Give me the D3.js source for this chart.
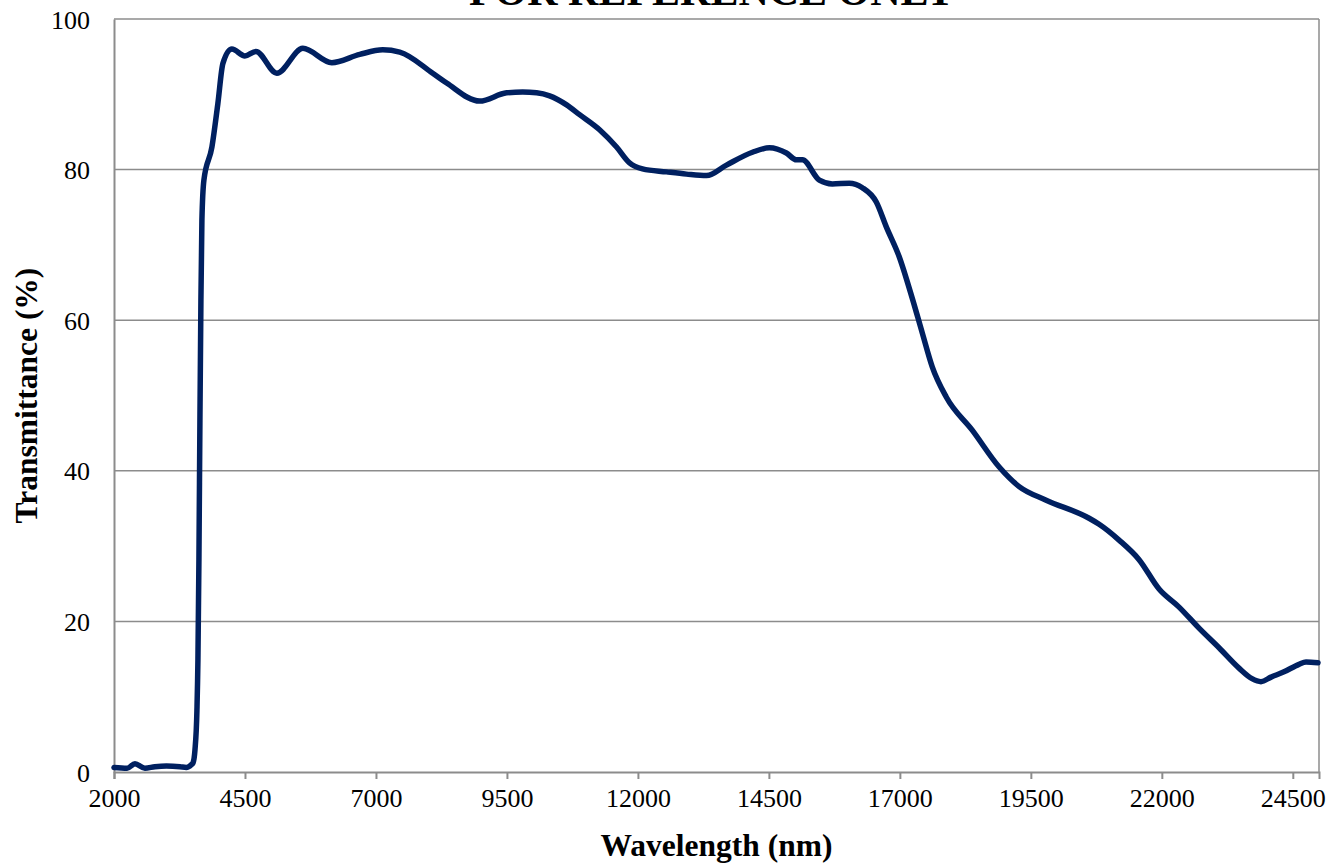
<!DOCTYPE html>
<html>
<head>
<meta charset="utf-8">
<script src="https://cdn.jsdelivr.net/npm/d3@7"></script>
<style>
  html, body { margin: 0; padding: 0; background: #fff; }
  svg { display: block; font-family: 'Liberation Serif', 'Times New Roman', serif; }
  .tick text { font-size: 26px; fill: #000; }
  .axis-title { font-size: 31.5px; font-weight: bold; fill: #000; }
</style>
</head>
<body>
<div id="chart"></div>
<script>
// wavelength (nm)
const wavelength = [
  2000, 2250, 2400, 2590, 2780, 3000, 3260, 3380, 3480,
  3507, 3545, 3583, 3602, 3621, 3640, 3659, 3678, 3716,
  3869, 3983, 4079, 4250, 4498, 4708, 5108, 5604, 6157, 6691, 7130, 7454,
  8083, 8350, 8980, 9495, 9800, 10067, 10315, 10639, 10887, 11268, 11592,
  11840, 12088, 12546, 12927, 13309, 13690, 14186, 14510, 14834, 15025,
  15139, 15463, 15711, 16035, 16283, 16550, 16741, 16989, 17237, 17428,
  17618, 17885, 18381, 18896, 19277, 19792, 20612, 20803, 21184, 21566,
  21947, 22329, 22710, 23092, 23473, 23721, 23893, 24084, 24332, 24618,
  24752, 24981
];
// transmittance (%)
const transmittance = [
  0.6, 0.5, 1.1, 0.5, 0.7, 0.8, 0.7, 0.6, 1.0,
  1.2, 2.9, 8.2, 14.9, 28.2, 46.7, 62.7, 73.3, 78.6,
  83.0, 88.8, 94.1, 96.0, 95.1, 95.7, 92.8, 96.1, 94.2, 95.3, 95.9, 95.6,
  92.8, 91.5, 89.1, 90.2, 90.3, 90.2, 89.8, 88.6, 87.3, 85.3, 83.0,
  80.9, 80.1, 79.7, 79.4, 79.2, 80.6, 82.3, 82.9, 82.2, 81.3,
  81.3, 78.6, 78.1, 78.2, 77.6, 75.7, 72.4, 68.4, 62.9, 58.3,
  53.8, 49.8, 45.4, 40.5, 37.9, 36.1, 33.7, 32.9, 30.8, 28.2,
  24.3, 21.9, 19.1, 16.5, 13.8, 12.4, 12.0, 12.6, 13.3, 14.3,
  14.6, 14.5
];
const xTicks = [2000, 4500, 7000, 9500, 12000, 14500, 17000, 19500, 22000, 24500];
const yTicks = [0, 20, 40, 60, 80, 100];

const width = 1332, height = 866;
const margin = { top: 19, right: 13, bottom: 94, left: 114 };
const innerW = width - margin.left - margin.right,
  innerH = height - margin.top - margin.bottom;

const svg = d3.select('#chart').append('svg')
  .attr('width', width)
  .attr('height', height);

const xScale = d3.scaleLinear().domain([2000, 25000]).range([0, innerW]);
const yScale = d3.scaleLinear().domain([0, 100]).range([innerH, 0]);

const g = svg.append('g')
  .attr('transform', `translate(${margin.left},${margin.top})`);

// horizontal gridlines (the 100 one doubles as the top border)
g.append('g').attr('class', 'grid')
  .selectAll('line').data(yTicks.slice(1)).enter()
  .append('line')
    .attr('x1', 0).attr('x2', innerW)
    .attr('y1', d => yScale(d)).attr('y2', d => yScale(d))
    .attr('stroke', '#8c8c8c')
    .attr('stroke-width', 1.5);

// right border of plot area
g.append('line')
  .attr('x1', innerW).attr('x2', innerW)
  .attr('y1', 0).attr('y2', innerH)
  .attr('stroke', '#8c8c8c').attr('stroke-width', 1.5);

const xAxis = g.append('g')
  .attr('transform', `translate(0,${innerH})`)
  .call(d3.axisBottom(xScale).tickValues(xTicks).tickSize(7).tickPadding(10).tickFormat(d3.format('d')));
const yAxis = g.append('g')
  .call(d3.axisLeft(yScale).tickValues(yTicks).tickSize(0).tickPadding(24).tickFormat(d3.format('d')));

[xAxis, yAxis].forEach(ax => {
  ax.select('.domain').attr('stroke', '#8c8c8c').attr('stroke-width', 2);
  ax.selectAll('.tick line').attr('stroke', '#8c8c8c').attr('stroke-width', 2);
  ax.selectAll('.tick text').style('font-family', "'Liberation Serif', 'Times New Roman', serif");
});
yAxis.selectAll('.tick text').attr('dy', '0.35em');

// the curve
const data = wavelength.map((w, i) => [w, transmittance[i]]);
const lineGen = d3.line()
  .x(d => xScale(d[0]))
  .y(d => yScale(d[1]))
  .curve(d3.curveMonotoneX);

g.append('path')
  .datum(data)
  .attr('fill', 'none')
  .attr('stroke', '#002060')
  .attr('stroke-width', 5.5)
  .attr('stroke-linejoin', 'round')
  .attr('stroke-linecap', 'round')
  .attr('d', lineGen);

// titles
svg.append('text')
  .attr('class', 'axis-title')
  .attr('x', margin.left + innerW / 2)
  .attr('y', 856)
  .attr('text-anchor', 'middle')
  .text('Wavelength (nm)');

svg.append('text')
  .attr('class', 'axis-title')
  .attr('transform', `translate(37,${margin.top + innerH / 2}) rotate(-90)`)
  .attr('text-anchor', 'middle')
  .text('Transmittance (%)');

// watermark title, cut off by the top edge as in the original
svg.append('text')
  .attr('x', 712)
  .attr('y', 5)
  .attr('text-anchor', 'middle')
  .style('font-size', '42px')
  .style('font-weight', 'bold')
  .text('FOR REFERENCE ONLY');
</script>
</body>
</html>
